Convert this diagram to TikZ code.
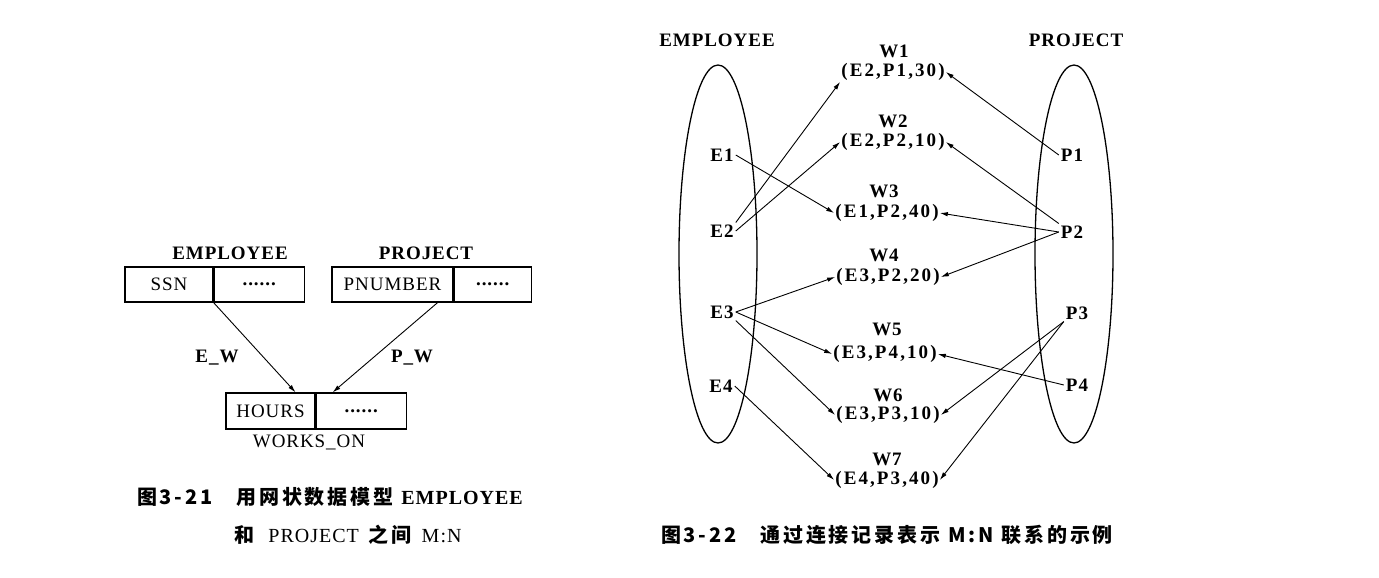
\documentclass[tikz,border=0pt]{standalone}
\usepackage{fontspec}
\setmainfont{Liberation Serif}
\newfontfamily\wide{Liberation Serif}[LetterSpace=5]
\newfontfamily\tupf{Liberation Serif}[LetterSpace=11]
\newfontfamily\cjk{Noto Sans CJK SC}[LetterSpace=14]
\usetikzlibrary{arrows.meta,calc,shapes.geometric}
\tikzset{
  lab/.style={font=\wide\bfseries\fontsize{19}{21}\selectfont, inner sep=2pt},
  plain/.style={font=\wide\fontsize{19}{21}\selectfont, inner sep=2pt},
  tup/.style={font=\tupf\bfseries\fontsize{19}{21}\selectfont, inner sep=1pt},
  cell/.style={draw, line width=1.2pt, inner sep=0pt, font=\wide\fontsize{19}{21}\selectfont},
  arr/.style={-{Latex[length=8pt,width=4.5pt]}, line width=0.9pt},
  setshape/.style={draw, ellipse, line width=1.3pt, inner sep=0pt, minimum width=78pt, minimum height=378pt},
  capt/.style={font=\fontsize{20}{22}\selectfont, inner sep=0pt}
}
\begin{document}
\begin{tikzpicture}[x=1pt,y=-1pt]
\useasboundingbox[fill=white] (0,0) rectangle (1379,578);

% ---------- left figure ----------
\node[lab] (lemp) at (230,253) {EMPLOYEE};
\node[lab] (lproj) at (426,253) {PROJECT};
\node[cell, minimum width=88pt, minimum height=35pt] (ssn) at (169,284.5) {SSN};
\node[cell, minimum width=90pt, minimum height=35pt, anchor=west] (sdots) at (ssn.east) {\bfseries ......};
\node[cell, minimum width=121pt, minimum height=35pt] (pnum) at (392.5,284.5) {PNUMBER};
\node[cell, minimum width=77pt, minimum height=35pt, anchor=west] (pdots) at (pnum.east) {\bfseries ......};
\node[cell, minimum width=89pt, minimum height=36pt] (hours) at (270.5,411) {HOURS};
\node[cell, minimum width=90pt, minimum height=36pt, anchor=west] (hdots) at (hours.east) {\bfseries ......};
\node[plain] (works) at (309,442) {WORKS\_ON};
\draw[arr] (ssn.south east) -- ($(hours.north east)+(-20,0)$);
\draw[arr] ($(pnum.south east)+(-16,0)$) -- ($(hdots.north west)+(17,0)$);
\node[lab] (ew) at (217,358) {E\_W};
\node[lab] (pw) at (412,358) {P\_W};

\node[capt] (cap1a) at (330,497) {{\cjk\bfseries 图3-21}\hspace{24pt}{\cjk\bfseries 用网状数据模型}\hspace{8pt}{\wide\bfseries EMPLOYEE}};
\node[capt] (cap1b) at (348,535) {{\cjk\bfseries 和}\hspace{14pt}{\wide PROJECT}\hspace{10pt}{\cjk\bfseries 之间}\hspace{10pt}{\wide M:N}};

% ---------- right figure ----------
\node[lab] (remp) at (717,40) {EMPLOYEE};
\node[lab] (rproj) at (1076,40) {PROJECT};
\node[setshape] (eset) at (718,254) {};
\node[setshape] (pset) at (1074,254) {};

\node[lab] (e1) at (722,155) {E1};
\node[lab] (e2) at (722,231) {E2};
\node[lab] (e3) at (722,312) {E3};
\node[lab] (e4) at (721,386) {E4};
\node[lab] (p1) at (1072,155) {P1};
\node[lab] (p2) at (1072,232) {P2};
\node[lab] (p3) at (1077,313) {P3};
\node[lab] (p4) at (1077,385) {P4};

\node[lab] (w1) at (894,51) {W1};
\node[tup] (t1) at (893,72) {(E2,P1,30)};
\node[lab] (w2) at (893,121) {W2};
\node[tup] (t2) at (893,142) {(E2,P2,10)};
\node[lab] (w3) at (884,191) {W3};
\node[tup] (t3) at (887,213) {(E1,P2,40)};
\node[lab] (w4) at (884,255) {W4};
\node[tup] (t4) at (888,277) {(E3,P2,20)};
\node[lab] (w5) at (887,329) {W5};
\node[tup] (t5) at (885,354) {(E3,P4,10)};
\node[lab] (w6) at (888,395) {W6};
\node[tup] (t6) at (888,415) {(E3,P3,10)};
\node[lab] (w7) at (887,459) {W7};
\node[tup] (t7) at (887,480) {(E4,P3,40)};

\draw[arr] (e2.north east) -- (t1.south west);
\draw[arr] (e2.east) -- (t2.west);
\draw[arr] (e1.east) -- (t3.west);
\draw[arr] (e3.east) -- (t4.west);
\draw[arr] (e3.east) -- (t5.west);
\draw[arr] (e3.south east) -- (t6.west);
\draw[arr] (e4.east) -- (t7.west);
\draw[arr] (p1.west) -- (t1.east);
\draw[arr] (p2.north west) -- (t2.east);
\draw[arr] (p2.west) -- (t3.east);
\draw[arr] (p2.west) -- (t4.east);
\draw[arr] (p4.west) -- (t5.east);
\draw[arr] (p3.south west) -- (t6.east);
\draw[arr] (p3.south west) -- (t7.east);

\node[capt] (cap2) at (887,535) {{\cjk\bfseries 图3-22}\hspace{24pt}{\cjk\bfseries 通过连接记录表示}\hspace{8pt}{\cjk\bfseries M:N}\hspace{8pt}{\cjk\bfseries 联系的示例}};
\end{tikzpicture}
\end{document}
